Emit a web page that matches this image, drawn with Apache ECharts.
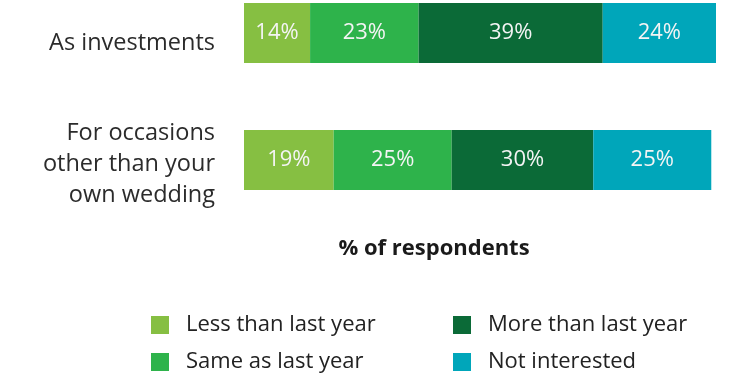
<!DOCTYPE html>
<html>
<head>
<meta charset="utf-8">
<script src="https://cdn.jsdelivr.net/npm/echarts@6/dist/echarts.min.js"></script>
<style>
  html, body { margin: 0; padding: 0; background: #fff; }
  #chart { width: 734px; height: 376px; }
</style>
</head>
<body>
<div id="chart"></div>
<script>
// Purchase intent by reason, share of respondents (%)
const categories = ['As investments', 'For occasions\nother than your\nown wedding'];
const seriesNames = ['Less than last year', 'Same as last year', 'More than last year', 'Not interested'];
const lessThanLastYear = [14, 19];
const sameAsLastYear = [23, 25];
const moreThanLastYear = [39, 30];
const notInterested = [24, 25];
const seriesColors = ['#86BF42', '#2EB34B', '#0B6A37', '#00A6BA'];

const values = [lessThanLastYear, sameAsLastYear, moreThanLastYear, notInterested];
const FONT = '"Open Sans", "Noto Sans", sans-serif';

// one legend block per item, laid out as a 2x2 grid
const legendSlots = [
  { left: 151, top: 314 },
  { left: 151, top: 351 },
  { left: 453, top: 314 },
  { left: 453, top: 351 }
];
const legends = seriesNames.map((name, i) => ({
  data: [name],
  left: legendSlots[i].left, top: legendSlots[i].top,
  padding: 0,
  icon: 'rect', itemWidth: 18, itemHeight: 18,
  textStyle: { fontFamily: FONT, fontSize: 22, color: '#222', padding: [0, 0, 0, 12] }
}));

const chart = echarts.init(document.getElementById('chart'));
chart.setOption({
  animation: false,
  textStyle: { fontFamily: FONT },
  grid: { left: 244, right: 18, top: 33, height: 127 },
  xAxis: {
    type: 'value', min: 0, max: 100,
    show: false
  },
  yAxis: {
    type: 'category', inverse: true, boundaryGap: false,
    data: categories,
    axisLine: { show: false }, axisTick: { show: false }, splitLine: { show: false },
    axisLabel: {
      margin: 29, color: '#2b2b2b', fontSize: 23.5, lineHeight: 31,
      fontFamily: FONT, align: 'right', padding: [8, 0, 0, 0],
      formatter: (v, idx) => idx === 0 ? '{first|' + v + '}' : v,
      rich: {
        first: { fontSize: 23.5, fontFamily: FONT, color: '#2b2b2b', padding: [12, 0, 0, 0] }
      }
    }
  },
  title: {
    text: '% of respondents', left: 429, top: 233, textAlign: 'center',
    textStyle: { fontFamily: FONT, fontSize: 22, fontWeight: 'bold', color: '#1a1a1a' }
  },
  legend: legends,
  series: seriesNames.map((name, i) => ({
    name, type: 'bar', stack: 'total', barWidth: 60,
    data: values[i],
    itemStyle: { color: seriesColors[i] },
    label: {
      show: true, position: 'inside', formatter: '{c}%',
      color: '#f4f4f4', fontSize: 22, fontFamily: FONT
    }
  }))
});
</script>
</body>
</html>
